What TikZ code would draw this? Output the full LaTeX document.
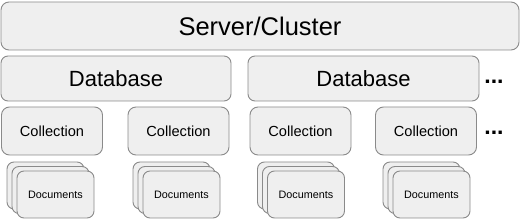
\documentclass[tikz,border=0pt]{standalone}
\usepackage{fontspec}
\setmainfont{Liberation Sans}
\usepackage{tikz}
\usetikzlibrary{positioning}
\definecolor{boxfill}{RGB}{239, 239, 239}
\definecolor{boxline}{RGB}{138, 138, 138}

\begin{document}
\begin{tikzpicture}[x=1pt, y=-1pt,
    box/.style={draw=boxline, fill=boxfill, line width=0.9pt, rounded corners=8pt, inner sep=0pt},
    serverbox/.style={box, minimum width=518pt, minimum height=48pt, font=\fontsize{25.5}{30}\selectfont},
    dbbox/.style={box, minimum width=230pt, minimum height=45pt, rounded corners=7pt, font=\fontsize{22}{26}\selectfont},
    collbox/.style={box, minimum width=101pt, minimum height=48pt, font=\fontsize{14.6}{18}\selectfont},
    docbox/.style={box, minimum width=77pt, minimum height=47pt, rounded corners=7pt, font=\fontsize{10.8}{13}\selectfont},
    more/.style={font=\fontsize{23}{26}\selectfont\bfseries, inner sep=0pt}]
  \useasboundingbox (0,0) rectangle (520,221);

  \node[serverbox] (server) at (260,26) {Server/Cluster};

  \node[dbbox] (db1) at (116,78.5) {Database};
  \node[dbbox, minimum width=231pt] (db2) at (363.5,78.5) {Database};
  \node[more, anchor=base] (dbmore) at (494,84) {...};

  % collections, each with a stack of documents below
  \foreach \i/\cx/\dx in {1/52/50.5, 2/178.5/176.5, 3/300.5/301, 4/426/426.5} {
    \node[collbox] (coll\i) at (\cx,131) {Collection};
    \node[docbox] (doc\i c) at (\dx-5,185.5) {};
    \node[docbox] (doc\i b) at (\dx,190) {};
    \node[docbox] (doc\i) at (\dx+5,194.5) {Documents};
  }
  \node[more, anchor=base] (collmore) at (494,135) {...};
\end{tikzpicture}
\end{document}
